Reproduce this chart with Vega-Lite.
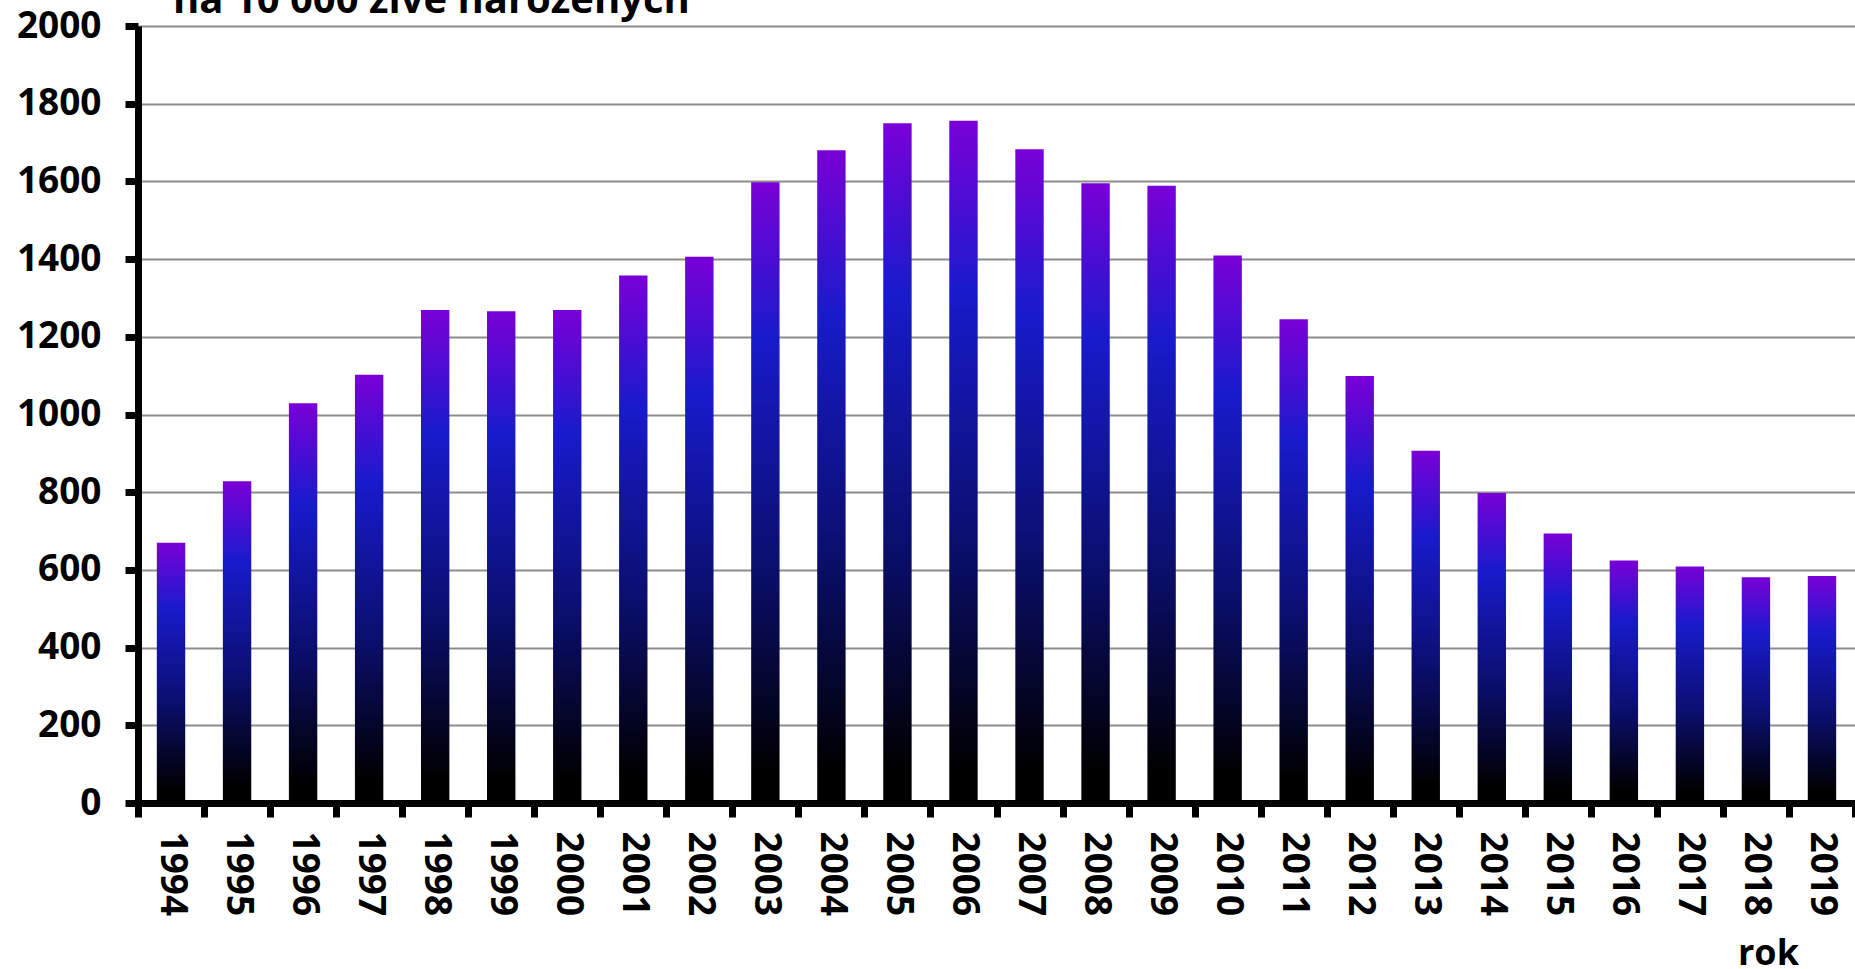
{
  "$schema": "https://vega.github.io/schema/vega-lite/v6.json",
  "autosize": {"type": "none"},
  "width": 1717,
  "height": 777,
  "padding": {"left": 138, "top": 26, "right": 0, "bottom": 166},
  "background": "white",
  "title": {
    "text": "na 10 000 živě narozených",
    "anchor": "start",
    "frame": "group",
    "dx": 35,
    "offset": -46,
    "baseline": "alphabetic",
    "font": "Open Sans",
    "fontSize": 40,
    "fontWeight": "bold",
    "color": "black"
  },
  "config": {
    "view": {"stroke": null},
    "font": "Open Sans"
  },
  "data": {
    "values": [
      {"rok": "1994", "hodnota": 670},
      {"rok": "1995", "hodnota": 828},
      {"rok": "1996", "hodnota": 1029},
      {"rok": "1997", "hodnota": 1102},
      {"rok": "1998", "hodnota": 1269},
      {"rok": "1999", "hodnota": 1266},
      {"rok": "2000", "hodnota": 1269},
      {"rok": "2001", "hodnota": 1358},
      {"rok": "2002", "hodnota": 1406},
      {"rok": "2003", "hodnota": 1598},
      {"rok": "2004", "hodnota": 1680},
      {"rok": "2005", "hodnota": 1750},
      {"rok": "2006", "hodnota": 1756},
      {"rok": "2007", "hodnota": 1683},
      {"rok": "2008", "hodnota": 1595},
      {"rok": "2009", "hodnota": 1589},
      {"rok": "2010", "hodnota": 1409},
      {"rok": "2011", "hodnota": 1245},
      {"rok": "2012", "hodnota": 1099},
      {"rok": "2013", "hodnota": 907},
      {"rok": "2014", "hodnota": 798},
      {"rok": "2015", "hodnota": 694},
      {"rok": "2016", "hodnota": 624},
      {"rok": "2017", "hodnota": 609},
      {"rok": "2018", "hodnota": 581},
      {"rok": "2019", "hodnota": 584}
    ]
  },
  "mark": {
    "type": "bar",
    "width": {"band": 0.43},
    "color": {
      "gradient": "linear",
      "x1": 0, "y1": 0, "x2": 0, "y2": 1,
      "stops": [
        {"offset": 0, "color": "#7a00d8"},
        {"offset": 0.25, "color": "#181bcb"},
        {"offset": 0.6, "color": "#0b0f72"},
        {"offset": 0.95, "color": "#000000"},
        {"offset": 1, "color": "#000000"}
      ]
    }
  },
  "encoding": {
    "x": {
      "field": "rok",
      "type": "ordinal",
      "scale": {"paddingInner": 0, "paddingOuter": 0},
      "axis": {
        "title": "rok",
        "titleX": 1630,
        "titleY": 161,
        "titleAlign": "center",
        "titleBaseline": "alphabetic",
        "titleFont": "Open Sans",
        "titleFontSize": 36,
        "titleFontWeight": "bold",
        "titleColor": "black",
        "labelAngle": 90,
        "labelAlign": "left",
        "labelBaseline": "middle",
        "labelFont": "Open Sans",
        "labelFontSize": 37,
        "labelFontWeight": "bold",
        "labelColor": "black",
        "labelPadding": 14,
        "tickBand": "extent",
        "tickSize": 14,
        "tickWidth": 7,
        "tickColor": "black",
        "domainColor": "black",
        "domainWidth": 7,
        "grid": false,
        "zindex": 1
      }
    },
    "y": {
      "field": "hodnota",
      "type": "quantitative",
      "scale": {"domain": [0, 2000], "nice": false},
      "axis": {
        "title": null,
        "format": "d",
        "values": [0, 200, 400, 600, 800, 1000, 1200, 1400, 1600, 1800, 2000],
        "labelFont": "Open Sans",
        "labelFontSize": 37,
        "labelFontWeight": "bold",
        "labelColor": "black",
        "labelPadding": 24,
        "tickSize": 13,
        "tickWidth": 7,
        "tickColor": "black",
        "domainColor": "black",
        "domainWidth": 7,
        "grid": true,
        "gridColor": "#8c8c8c",
        "gridWidth": 2,
        "zindex": 0
      }
    }
  }
}
